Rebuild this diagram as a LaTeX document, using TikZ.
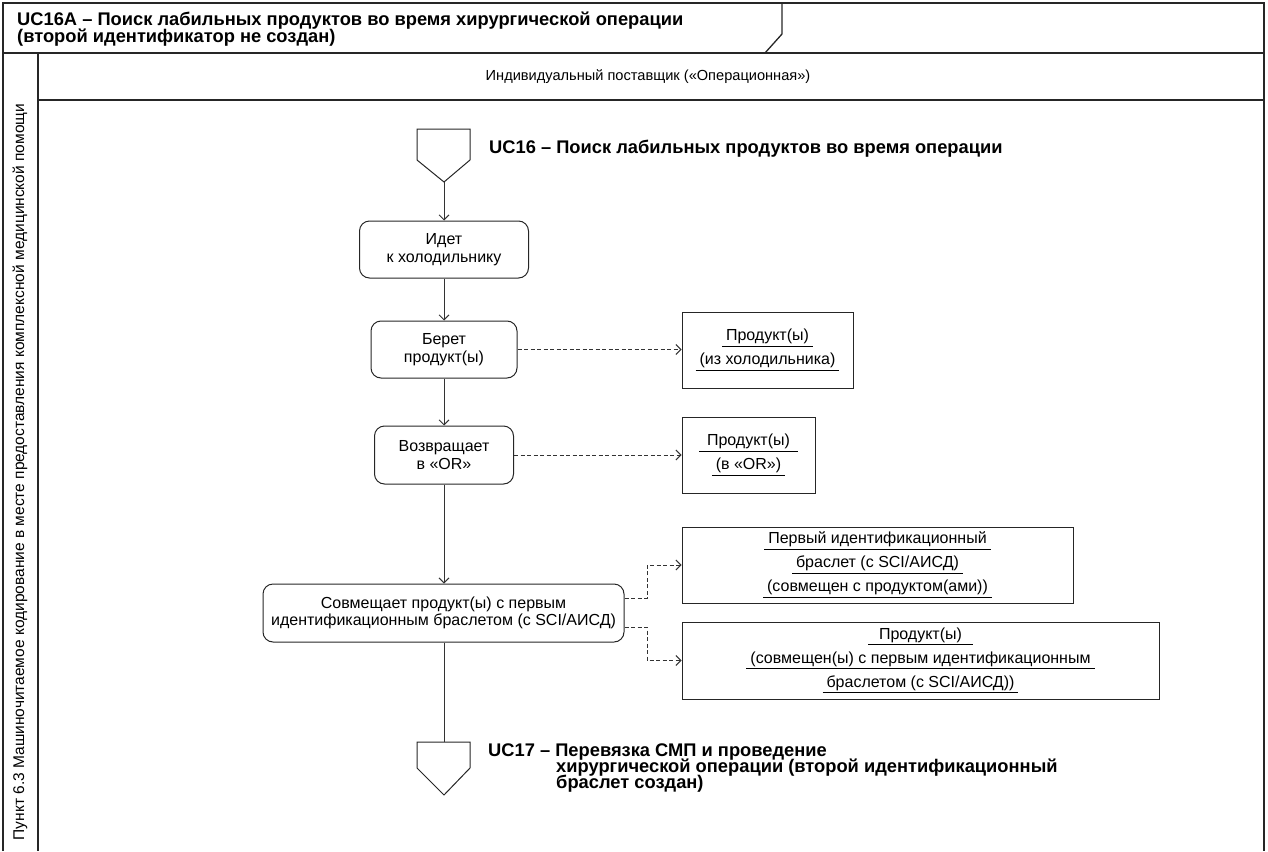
\documentclass[tikz,border=0pt]{standalone}
\usepackage{fontspec}
\setmainfont{Liberation Sans}
\usetikzlibrary{arrows.meta}
\newcommand\ulx[1]{\vtop{\hbox{\kern4pt\vphantom{(}#1\kern4pt}\kern1.8pt\hrule height 1.2pt}}
\newcommand\ulw[2]{\vtop{\hbox to #1{\hss\vphantom{(}#2\hss}\kern1.8pt\hrule height 1.2pt}}
\tikzset{
  frame/.style={line width=1.3pt, draw=black!85},
  proc/.style={draw=black!85, line width=1pt, rounded corners=10pt, align=center, inner sep=2pt,
    font=\fontsize{16}{17.5}\selectfont},
  obj/.style={draw=black!85, line width=1pt, align=center, inner sep=2pt,
    font=\fontsize{16}{24}\selectfont},
  flow/.style={draw=black!80, line width=0.9pt},
  arr/.style={flow, -{Straight Barb[length=5pt,width=10pt]}},
  darr/.style={flow, dashed, dash pattern=on 4pt off 2.5pt, -{Straight Barb[length=5pt,width=10pt]}},
  term/.style={draw=black!85, line width=1pt},
  ttl/.style={font=\bfseries\fontsize{18.3}{16.5}\selectfont, inner sep=0pt, anchor=base west}
}
\begin{document}
\begin{tikzpicture}[x=1pt,y=-1pt]
\useasboundingbox (0,0) rectangle (1268,851);
% frame
\draw[frame] (3,851) -- (3,3) -- (1264,3) -- (1264,851);
\draw[frame] (3,53) -- (1264,53);
\draw[frame] (38,53) -- (38,851);
\draw[frame] (38,100) -- (1264,100);
\draw[frame] (782,3) -- (782,34) -- (765,53);
% title
\node[ttl] (title1) at (17,26) {UC16A – Поиск лабильных продуктов во время хирургической операции};
\node[ttl] (title2) at (17,43) {(второй идентификатор не создан)};
\node[font=\fontsize{14.6}{17}\selectfont] (lane) at (648,77) {Индивидуальный поставщик («Операционная»)};
\node[rotate=90, font=\fontsize{15.5}{18}\selectfont] (side) at (20,472) {Пункт 6.3 Машиночитаемое кодирование в месте предоставления комплексной медицинской помощи};
% start terminator
\draw[term] (417,129) -- (470,129) -- (470,160) -- (444,182) -- (417,160) -- cycle;
\coordinate (s1) at (444,182);
\node[ttl] (uc16) at (489,153) {UC16 – Поиск лабильных продуктов во время операции};
% process boxes
\node[proc, minimum width=169pt, minimum height=57pt] (b1) at (444,249.5) {Идет\\к холодильнику};
\node[proc, minimum width=146pt, minimum height=57pt] (b2) at (444,349.5) {Берет\\продукт(ы)};
\node[proc, minimum width=139pt, minimum height=58pt] (b3) at (444,455) {Возвращает\\в «OR»};
\node[proc, minimum width=361pt, minimum height=58pt] (b4) at (443.5,613) {Совмещает продукт(ы) с первым\\идентификационным браслетом (с SCI/АИСД)};
% object boxes
\node[obj, minimum width=171pt, minimum height=76pt] (o1) at (767.5,350) {\ulw{91pt}{Продукт(ы)}\\\ulx{(из холодильника)}};
\node[obj, minimum width=133pt, minimum height=76pt] (o2) at (748.5,455) {\ulw{99pt}{Продукт(ы)}\\\ulx{(в «OR»)}};
\node[obj, minimum width=391pt, minimum height=76pt] (o3) at (877.5,565) {\ulx{Первый идентификационный}\\\ulx{браслет (с SCI/АИСД)}\\\ulx{(совмещен с продуктом(ами))}};
\node[obj, minimum width=477pt, minimum height=77pt] (o4) at (920.5,660.5) {\ulw{105pt}{Продукт(ы)}\\\ulx{(совмещен(ы) с первым идентификационным}\\\ulx{браслетом (с SCI/АИСД))}};
% end terminator
\draw[term] (417,742) -- (470,742) -- (470,768) -- (444,795) -- (417,768) -- cycle;
\coordinate (e1) at (444,742);
\node[ttl] (uc17a) at (488,756) {UC17 – Перевязка СМП и проведение};
\node[ttl] (uc17b) at (556,772) {хирургической операции (второй идентификационный};
\node[ttl] (uc17c) at (556,788) {браслет создан)};
% connectors
\draw[arr] (s1) -- (s1 |- b1.north);
\draw[arr] (b1) -- (b2);
\draw[arr] (b2) -- (b3);
\draw[arr] (b3.south) -- (b3.south |- b4.north);
\draw[flow] (b4.south -| e1) -- (e1);
\draw[darr] (b2.east) -- (b2.east -| o1.west);
\draw[darr] (b3.east) -- (b3.east -| o2.west);
\coordinate (j1) at (647,598);
\coordinate (j2) at (647,627);
\draw[darr] (b4.east |- j1) -- (j1) |- (o3.west);
\draw[darr] (b4.east |- j2) -- (j2) |- (o4.west);
\end{tikzpicture}
\end{document}
